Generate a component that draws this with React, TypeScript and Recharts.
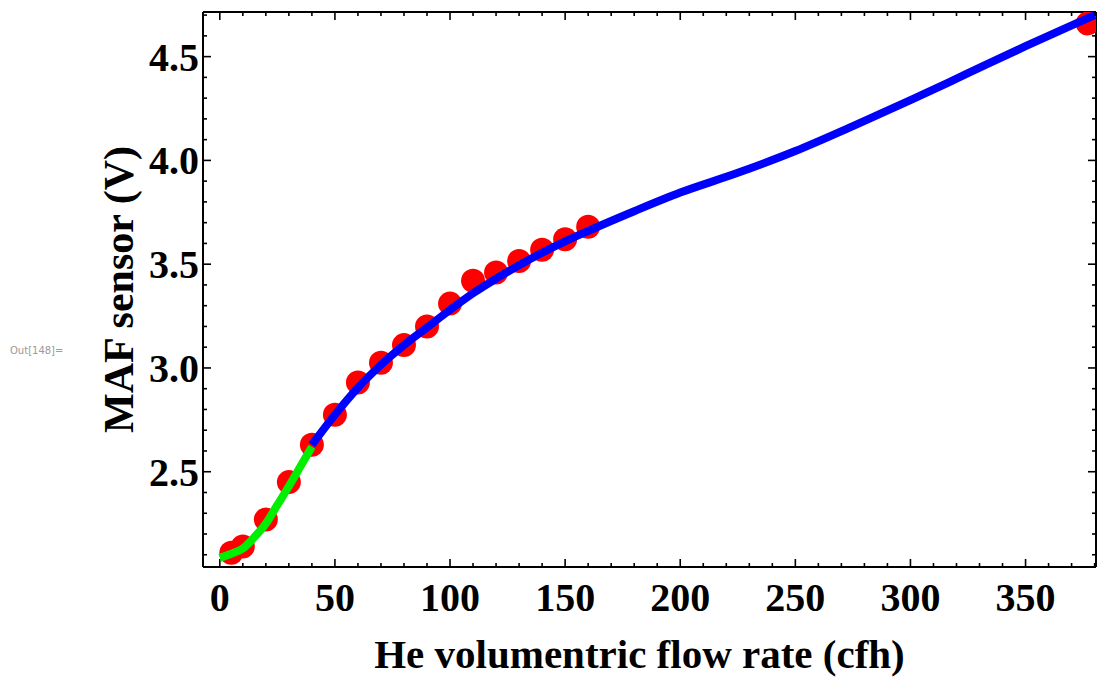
import React from "react";
import { ComposedChart, Line, Scatter, XAxis, YAxis, Label } from "recharts";

// Measured points (He flow rate in cfh, MAF sensor voltage)
const flowPoints = [5, 10, 20, 30, 40, 50, 60, 70, 80, 90, 100, 110, 120, 130, 140, 150, 160, 377];
const voltPoints = [2.11, 2.14, 2.27, 2.45, 2.63, 2.775, 2.93, 3.025, 3.11, 3.2, 3.31, 3.42, 3.46, 3.515, 3.57, 3.62, 3.68, 4.66];

// Low-flow fit (green)
const greenX = [0, 5, 10, 15, 20, 25, 30, 35, 40];
const greenY = [2.085, 2.105, 2.13, 2.185, 2.25, 2.34, 2.43, 2.525, 2.62];

// High-flow fit (blue)
const blueX = [40, 50, 60, 70, 80, 90, 100, 110, 120, 130, 140, 150, 160, 180, 200, 225, 250, 275, 300, 325, 350, 380];
const blueY = [2.63, 2.775, 2.905, 3.015, 3.11, 3.195, 3.28, 3.36, 3.43, 3.495, 3.555, 3.61, 3.66, 3.755, 3.845, 3.94, 4.045, 4.165, 4.29, 4.42, 4.55, 4.7];

// Tick positions
const xTicks = [0, 10, 20, 30, 40, 50, 60, 70, 80, 90, 100, 110, 120, 130, 140, 150, 160, 170, 180, 190, 200, 210, 220, 230, 240, 250, 260, 270, 280, 290, 300, 310, 320, 330, 340, 350, 360, 370, 380];
const xMajor = [0, 50, 100, 150, 200, 250, 300, 350];
const yTicks = [2.1, 2.2, 2.3, 2.4, 2.5, 2.6, 2.7, 2.8, 2.9, 3.0, 3.1, 3.2, 3.3, 3.4, 3.5, 3.6, 3.7, 3.8, 3.9, 4.0, 4.1, 4.2, 4.3, 4.4, 4.5, 4.6, 4.7];
const yMajor = [2.5, 3.0, 3.5, 4.0, 4.5];

const xDomain: [number, number] = [-7.3, 380.6];
const yDomain: [number, number] = [2.041, 4.715];

const points = flowPoints.map((x, i) => ({ x, y: voltPoints[i] }));
const greenData = greenX.map((x, i) => ({ x, y: greenY[i] }));
const blueData = blueX.map((x, i) => ({ x, y: blueY[i] }));

const FONT = '"Liberation Serif", "Times New Roman", Times, serif';
const isXMajor = (v: number) => xMajor.some((m) => Math.abs(m - v) < 1e-6);
const isYMajor = (v: number) => yMajor.some((m) => Math.abs(m - v) < 1e-6);

const BottomTick = (props: any) => {
  const { x, y, payload } = props;
  const major = isXMajor(payload.value);
  return (
    <g>
      <line x1={x} x2={x} y1={y} y2={y - (major ? 8 : 4)} stroke="#000" strokeWidth={1.6} />
      {major && (
        <text x={x} y={y + 44} textAnchor="middle" fontFamily={FONT} fontWeight="bold" fontSize={40} fill="#000">
          {payload.value}
        </text>
      )}
    </g>
  );
};

const TopTick = (props: any) => {
  const { x, y, payload } = props;
  const major = isXMajor(payload.value);
  return <line x1={x} x2={x} y1={y} y2={y + (major ? 8 : 4)} stroke="#000" strokeWidth={1.6} />;
};

const LeftTick = (props: any) => {
  const { x, y, payload } = props;
  const major = isYMajor(payload.value);
  return (
    <g>
      <line x1={x} x2={x + (major ? 8 : 4)} y1={y} y2={y} stroke="#000" strokeWidth={1.6} />
      {major && (
        <text x={x - 4} y={y + 14} textAnchor="end" fontFamily={FONT} fontWeight="bold" fontSize={40} fill="#000">
          {Number(payload.value).toFixed(1)}
        </text>
      )}
    </g>
  );
};

const RightTick = (props: any) => {
  const { x, y, payload } = props;
  const major = isYMajor(payload.value);
  return <line x1={x} x2={x - (major ? 8 : 4)} y1={y} y2={y} stroke="#000" strokeWidth={1.6} />;
};

const Dot = (props: any) => {
  const { cx, cy } = props;
  if (cx == null || cy == null) return <g />;
  return <circle cx={cx} cy={cy} r={12} fill="#ff0000" />;
};

const XLabel = (props: any) => {
  const vb = props.viewBox;
  return (
    <text x={vb.x + vb.width / 2 - 10} y={vb.y + 101} textAnchor="middle" fontFamily={FONT} fontWeight="bold" fontSize={41} fill="#000">
      He volumentric flow rate (cfh)
    </text>
  );
};

const YLabel = (props: any) => {
  const vb = props.viewBox;
  const cx = vb.x + 30;
  const cy = vb.y + vb.height / 2;
  return (
    <text x={cx} y={cy} transform={`rotate(-90, ${cx}, ${cy})`} textAnchor="middle" fontFamily={FONT} fontWeight="bold" fontSize={42} fill="#000">
      MAF sensor (V)
    </text>
  );
};

const W = 1097;
const H = 677;

export default function App() {
  return (
    <div style={{ position: "absolute", left: 0, top: 0, width: W, height: H, background: "#fff", overflow: "hidden" }}>
      <div
        style={{
          position: "absolute",
          left: 10,
          top: 345,
          fontFamily: '"DejaVu Sans", "Liberation Sans", sans-serif',
          fontSize: 10,
          color: "#9a9a9a",
        }}
      >
        Out[148]=
      </div>
      {/* Base chart: frame, ticks, labels and the measured points */}
      <div style={{ position: "absolute", left: 0, top: 0 }}>
        <ComposedChart width={W} height={H} margin={{ top: 11, right: 0, bottom: 20, left: 103 }}>
          <XAxis
            xAxisId={0}
            dataKey="x"
            type="number"
            domain={xDomain}
            allowDataOverflow
            ticks={xTicks}
            interval={0}
            tickSize={0}
            tickMargin={0}
            tickLine={false}
            tick={<BottomTick />}
            axisLine={{ stroke: "#000", strokeWidth: 2 }}
            height={90}
          >
            <Label content={<XLabel />} />
          </XAxis>
          <XAxis
            xAxisId={1}
            orientation="top"
            dataKey="x"
            type="number"
            domain={xDomain}
            allowDataOverflow
            ticks={xTicks}
            interval={0}
            tickSize={0}
            tickMargin={0}
            tickLine={false}
            tick={<TopTick />}
            axisLine={{ stroke: "#000", strokeWidth: 2 }}
            height={1}
          />
          <YAxis
            yAxisId={0}
            type="number"
            domain={yDomain}
            allowDataOverflow
            ticks={yTicks}
            interval={0}
            tickSize={0}
            tickMargin={0}
            tickLine={false}
            tick={<LeftTick />}
            axisLine={{ stroke: "#000", strokeWidth: 2 }}
            width={100}
          >
            <Label content={<YLabel />} />
          </YAxis>
          <YAxis
            yAxisId={1}
            orientation="right"
            type="number"
            domain={yDomain}
            allowDataOverflow
            ticks={yTicks}
            interval={0}
            tickSize={0}
            tickMargin={0}
            tickLine={false}
            tick={<RightTick />}
            axisLine={{ stroke: "#000", strokeWidth: 2 }}
            width={1}
          />
          <Scatter xAxisId={1} yAxisId={1} data={points} dataKey="y" shape={() => <g />} isAnimationActive={false} />
          <Scatter xAxisId={0} yAxisId={0} data={points} dataKey="y" shape={<Dot />} isAnimationActive={false} />
        </ComposedChart>
      </div>
      {/* Overlay chart: fitted curves drawn above the points */}
      <div style={{ position: "absolute", left: 0, top: 0 }}>
        <ComposedChart width={W} height={H} margin={{ top: 12, right: 1, bottom: 110, left: 203 }}>
          <XAxis dataKey="x" type="number" domain={xDomain} allowDataOverflow hide />
          <YAxis type="number" domain={yDomain} allowDataOverflow hide />
          <Line data={blueData} dataKey="y" type="monotone" stroke="#0000ff" strokeWidth={8} dot={false} activeDot={false} isAnimationActive={false} />
          <Line data={greenData} dataKey="y" type="monotone" stroke="#00ee00" strokeWidth={8} dot={false} activeDot={false} isAnimationActive={false} />
        </ComposedChart>
      </div>
    </div>
  );
}
